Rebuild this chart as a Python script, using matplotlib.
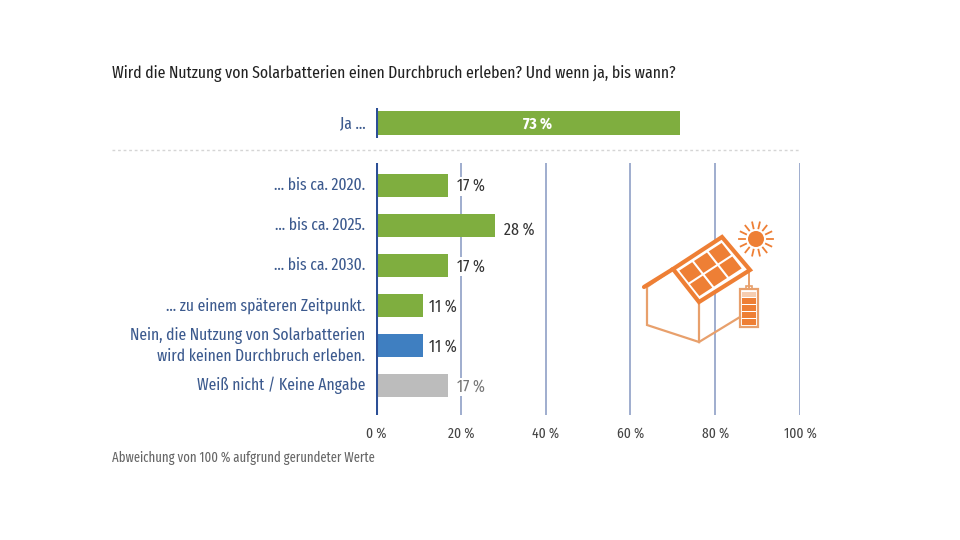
#!/usr/bin/env python3

import numpy as np
import matplotlib
matplotlib.use('Agg')
from matplotlib import pyplot as plt
from matplotlib import font_manager as fm
from matplotlib.patches import Circle, Polygon, Rectangle

# a condensed face if there is one, the original uses a narrow sans
installed = {f.name for f in fm.fontManager.ttflist}
for name in ['Fira Sans Extra Condensed', 'Fira Sans Condensed', 'Roboto Condensed', 'Open Sans', 'DejaVu Sans']:
    if name in installed:
        plt.rcParams['font.family'] = [name, 'DejaVu Sans']
        break

W, H = 960, 540
BLUE_TEXT = '#3c5a8e'
AXIS_BLUE = '#2c4f96'
GRID = '#8f9fc6'
GREEN = '#7fae3f'
ORANGE = '#ee7f35'
LIGHT_ORANGE = '#e8a06c'

labels = ['... bis ca. 2020.', '... bis ca. 2025.', '... bis ca. 2030.',
          '... zu einem späteren Zeitpunkt.',
          'Nein, die Nutzung von Solarbatterien\nwird keinen Durchbruch erleben.',
          'Weiß nicht / Keine Angabe']
values = [17, 28, 17, 11, 11, 17]
colors = [GREEN, GREEN, GREEN, GREEN, '#3f7fc1', '#bcbcbc']


def make_axes(top, bottom):
    # pixel box of the plot, 0 % at x=376 and 100 % at x=800
    ax = fig.add_axes([376 / W, 1 - bottom / H, 424 / W, (bottom - top) / H])
    ax.set_xlim(0, 100)
    ax.set_yticks([])
    ax.patch.set_alpha(0)
    for s in ['top', 'right', 'bottom', 'left']:
        ax.spines[s].set_visible(False)
    ax.axvline(0, color=AXIS_BLUE, lw=2.2, zorder=5)
    return ax


fig = plt.figure(figsize=(W / 100, H / 100), dpi=100)

# top bar
ax1 = make_axes(108, 138)
ax1.set_ylim(-0.5, 0.5)
ax1.barh(0, 71.4, height=0.77, left=0.3, color=GREEN, zorder=3)
ax1.text(38, -0.02, '73 %', color='white', ha='center', va='center',
         fontsize=12, fontweight='bold', zorder=4)
ax1.text(-2.5, -0.02, 'Ja ...', color=BLUE_TEXT, ha='right', va='center', fontsize=12.2)
ax1.set_xticks([])

# lower bars
ax2 = make_axes(163, 415)
y = np.arange(len(values))
ax2.set_ylim(5.73, -0.55)
for gx in [20, 40, 60, 80, 100]:
    ax2.axvline(gx, color=GRID, lw=1.2, zorder=1)
ax2.barh(y, values, height=0.575, color=colors, zorder=3)
for yi, v, lab in zip(y, values, labels):
    # the 28 % label sits a bit lower in the original
    ax2.text(v + (1.6 if v == 11 else 2.2), yi + (0.13 if v == 28 else 0.03), f'{v} %',
             color='#333333' if lab[0] != 'W' else '#777777',
             ha='left', va='center', fontsize=12.4,
             bbox=dict(fc='white', ec='none', pad=1), zorder=4)
    ax2.text(-2.5, yi, lab, color=BLUE_TEXT, ha='right', va='center',
             fontsize=12.2, linespacing=1.3)
ax2.set_xticks([0, 20, 40, 60, 80, 100])
ax2.set_xticklabels([f'{t} %' for t in [0, 20, 40, 60, 80, 100]],
                    fontsize=10.6, color='#444444')
ax2.tick_params(axis='x', length=0, pad=8)

# overlay in pixel coordinates for texts and the icon
ov = fig.add_axes([0, 0, 1, 1], zorder=10)
ov.set_xlim(0, W)
ov.set_ylim(H, 0)
ov.axis('off')
ov.patch.set_alpha(0)

ov.text(112, 74, 'Wird die Nutzung von Solarbatterien einen Durchbruch erleben? Und wenn ja, bis wann?',
        color='#222222', fontsize=12.3, va='center')
ov.text(112, 458, 'Abweichung von 100 % aufgrund gerundeter Werte',
        color='#666666', fontsize=9.9, va='center')
ov.plot([112, 800], [150, 150], color='#d5d5d5', lw=1, ls=(0, (2, 2)))

# house
ov.add_patch(Polygon([(647, 287), (673, 269), (699, 302), (699, 342), (647, 325)],
                     closed=True, fc='white', ec=LIGHT_ORANGE, lw=1.6))
ov.plot([699, 740], [342, 317], color=LIGHT_ORANGE, lw=1.6)
ov.add_patch(Polygon([(699, 302), (750, 270), (722, 237), (673, 269)],
                     closed=True, fc='white', ec=ORANGE, lw=3, zorder=3))
ov.plot([644, 673], [287, 269], color=ORANGE, lw=3, zorder=3, solid_capstyle='round')

# solar cells
o = np.array([673.0, 269.0])
U = np.array([49.0, -32.0])    # along the ridge side
V = np.array([26.0, 33.0])     # down the roof
start = o + 0.05 * U + 0.09 * V
u = 0.90 * U / 3
v = 0.82 * V / 2
for i in range(3):
    for j in range(2):
        p = start + u * i + v * j
        cell = [p + u * a + v * b for a, b in [(.06, .06), (.94, .06), (.94, .94), (.06, .94)]]
        ov.add_patch(Polygon(cell, closed=True, fc=ORANGE, ec='none', zorder=4))

# battery
ov.plot([749, 749], [272, 287], color=LIGHT_ORANGE, lw=1.4)
ov.add_patch(Rectangle((746, 286), 6, 3.5, fc='white', ec=LIGHT_ORANGE, lw=1.2))
ov.add_patch(Rectangle((740, 289), 18, 38, fc='white', ec=LIGHT_ORANGE, lw=1.6))
for by in [298, 305, 312, 319]:
    ov.add_patch(Rectangle((742, by), 14, 5.5, fc=ORANGE, ec='none'))
ov.add_patch(Rectangle((742, 292), 14, 4.5, fc='#f6cdb0', ec='none'))

# sun
ov.add_patch(Circle((756, 239), 8, fc=ORANGE, ec='none'))
for a in np.deg2rad(np.arange(0, 360, 360 / 14)):
    ov.plot([756 + 11 * np.cos(a), 756 + 17 * np.cos(a)],
            [239 + 11 * np.sin(a), 239 + 17 * np.sin(a)],
            color=ORANGE, lw=1.3)

fig.savefig('out.png', dpi=100, facecolor='white')
